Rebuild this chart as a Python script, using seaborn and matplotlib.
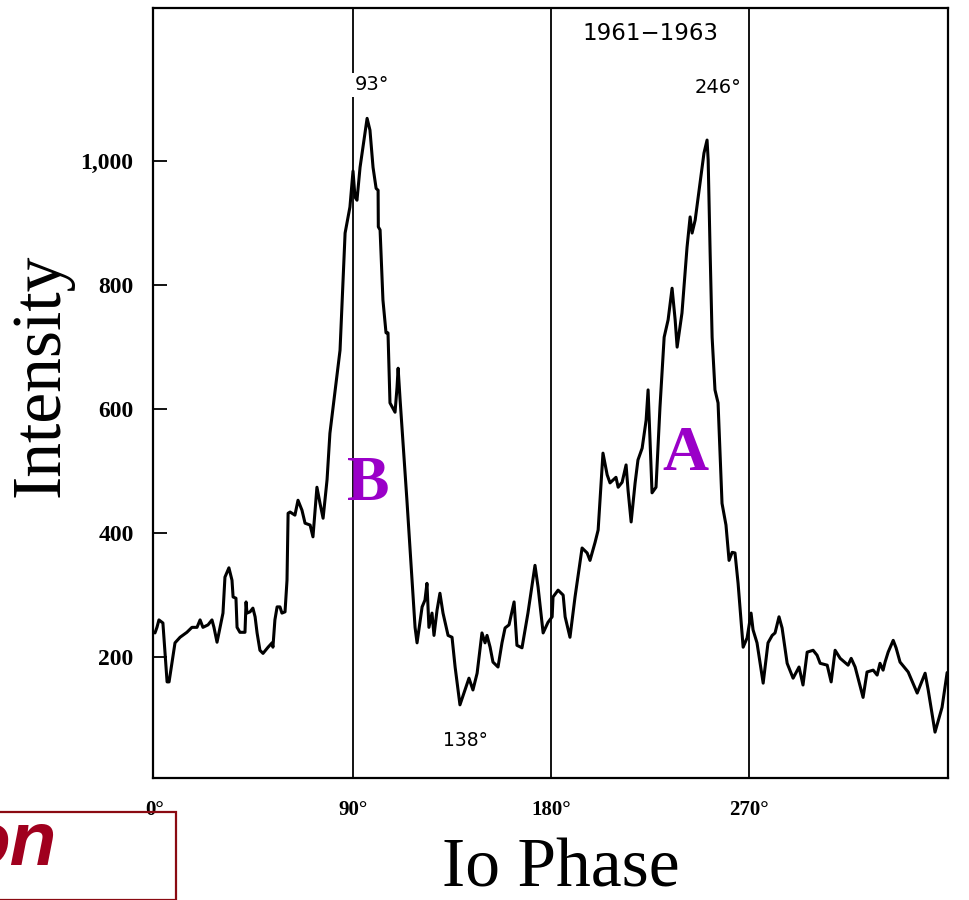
import matplotlib
matplotlib.use("Agg")
import matplotlib.pyplot as plt
import seaborn as sns
import pandas as pd
from matplotlib.patches import Rectangle

# ---- data (Io phase in degrees, intensity) ----
phase = [0.0, 0.9, 1.8, 3.6, 5.5, 6.4, 9.1, 11.4, 14.5, 16.8, 19.1, 20.5, 21.8, 24.1,
         25.9, 26.8, 28.2, 29.5, 30.9, 31.8, 33.6, 35.0, 35.5, 36.8, 37.3, 38.6, 40.9,
         41.4, 41.8, 43.2, 44.5, 45.5, 46.4, 47.7, 49.1, 51.4, 53.2, 53.6, 54.5, 55.5,
         56.8, 57.7, 59.1, 60.0, 60.5, 61.4, 63.6, 65.0, 66.8, 68.2, 70.5, 71.8, 73.6,
         75.0, 76.4, 78.2, 79.5, 84.1, 86.4, 88.6, 90.0, 90.9, 91.8, 93.2, 96.4, 97.7,
         99.1, 100.5, 101.4, 101.5, 102.3, 103.6, 105.0, 105.9, 106.8, 109.1, 110.0,
         110.5, 111.4, 114.5, 118.2, 119.1, 121.4, 122.7, 123.6, 124.5, 125.9, 126.8,
         128.2, 129.5, 130.9, 133.2, 135.0, 136.4, 138.6, 140.9, 142.7, 144.5, 146.4,
         148.6, 150.0, 150.9, 152.3, 153.6, 155.9, 157.7, 159.1, 160.9, 163.2, 164.5,
         166.8, 169.5, 172.7, 174.1, 176.4, 178.6, 180.5, 180.9, 183.2, 185.5, 186.4,
         188.6, 190.9, 194.1, 196.4, 197.7, 200.0, 201.4, 203.6, 205.5, 206.8, 209.5,
         210.5, 212.3, 214.1, 215.0, 216.4, 218.2, 219.5, 221.4, 223.2, 224.1, 225.9,
         227.7, 229.5, 231.4, 233.2, 235.0, 236.4, 237.3, 239.5, 241.8, 243.2, 244.1,
         245.5, 247.7, 249.5, 250.9, 251.4, 252.3, 253.2, 254.5, 255.9, 256.8, 257.7,
         259.5, 260.9, 262.3, 263.6, 265.0, 267.3, 269.1, 270.9, 271.8, 273.6, 275.0,
         276.4, 278.6, 280.5, 281.8, 283.6, 285.0, 287.3, 290.0, 292.7, 294.5, 296.4,
         299.1, 300.9, 302.3, 305.5, 307.3, 309.1, 311.4, 315.0, 316.4, 318.2, 321.8,
         323.6, 326.4, 328.2, 329.5, 330.9, 331.8, 333.2, 335.5, 336.8, 338.6, 342.3,
         346.4, 350.0, 351.4, 354.5, 357.7, 360.0]
intensity = [239, 248, 260, 255, 160, 160, 223, 232, 240, 248, 248, 260, 248, 252,
             260, 248, 224, 247, 271, 329, 344, 324, 297, 295, 248, 240, 240,
             289, 271, 273, 279, 265, 239, 211, 206, 216, 223, 216, 260, 281,
             281, 271, 273, 324, 432, 434, 429, 453, 437, 416, 413, 394, 474,
             448, 424, 486, 561, 695, 884, 926, 984, 942, 937, 990, 1069, 1050,
             990, 956, 953, 894, 889, 776, 723, 723, 610, 595, 635,
             666, 615, 453, 248, 223, 281, 292, 319, 248, 271, 235,
             276, 303, 271, 235, 232, 184, 123, 147, 166, 147, 174,
             239, 223, 235, 216, 192, 184, 223, 247, 252, 289, 219,
             215, 271, 348, 313, 239, 256, 265, 297, 308, 300, 265,
             232, 297, 376, 368, 356, 385, 405, 529, 494, 481, 490,
             474, 482, 510, 469, 418, 481, 518, 537, 582, 631, 465,
             474, 603, 716, 744, 795, 744, 700, 755, 861, 910, 884,
             905, 965, 1013, 1034, 1002, 852, 716, 631, 610, 529, 448,
             413, 356, 369, 368, 319, 216, 231, 271, 244, 223, 190,
             158, 223, 235, 239, 265, 247, 190, 166, 184, 155, 208,
             211, 203, 190, 187, 160, 211, 198, 187, 198, 184, 135,
             176, 179, 171, 190, 179, 192, 208, 227, 215, 192, 176,
             142, 174, 147, 79, 119, 175]

xtick_vals = [0, 90, 180, 270]
xtick_labels = ["0°", "90°", "180°", "270°"]
ytick_vals = [200, 400, 600, 800, 1000]
ytick_labels = ["200", "400", "600", "800", "1,000"]
ref_lines = [90, 180, 270]

df = pd.DataFrame({"phase": phase, "intensity": intensity})

sns.set_theme(style="white")
plt.rcParams["font.family"] = ["Liberation Serif", "DejaVu Serif"]
plt.rcParams.update({"text.color": "black", "axes.labelcolor": "black",
                     "xtick.color": "black", "ytick.color": "black"})

fig = plt.figure(figsize=(9.69, 9.0), dpi=100)
ax = fig.add_axes([153 / 969, 1 - 778 / 900, (948 - 153) / 969, (778 - 8) / 900])

for v in ref_lines:
    ax.axvline(v, color="black", lw=1.3, zorder=1)

sns.lineplot(data=df, x="phase", y="intensity", ax=ax, color="black", lw=2.2,
             sort=False, estimator=None, zorder=3)

ax.set_xlim(-0.9, 360.4)
ax.set_ylim(5, 1247)

ax.set_xticks(xtick_vals)
ax.set_xticklabels(xtick_labels, fontsize=15, fontweight="bold")
ax.set_yticks(ytick_vals)
ax.set_yticklabels(ytick_labels, fontsize=17, fontweight="bold")
ax.tick_params(axis="x", length=0, pad=16)
ax.tick_params(axis="y", direction="in", length=10, width=1.3, pad=14, left=True)

for s in ax.spines.values():
    s.set_visible(True)
    s.set_color("black")
    s.set_linewidth(1.6)

ax.set_xlabel("Io Phase", fontsize=50, labelpad=0)
ax.set_ylabel("Intensity", fontsize=50, labelpad=10)
ax.xaxis.set_label_coords((561 - 153) / (948 - 153), -(838 - 778) / 770)
ax.yaxis.set_label_coords(-(153 - 74) / 795, (778 - 375) / 770)

small = dict(family=["DejaVu Sans"], color="black", ha="center", va="center")
ax.text(98.5, 1123, "93°", fontsize=14, zorder=5,
        bbox=dict(facecolor="white", edgecolor="none", pad=1.5), **small)
ax.text(256, 1118, "246°", fontsize=14, zorder=5, **small)
ax.text(141, 66, "138°", fontsize=13.5, zorder=5, **small)
ax.text(225, 1206, "1961−1963", fontsize=16.5, zorder=5, **small)

ax.text(96.8, 477, "B", fontsize=46, fontweight="bold", color="#9a00c8",
        ha="center", va="center", zorder=6)
ax.text(240.9, 526, "A", fontsize=46, fontweight="bold", color="#9a00c8",
        ha="center", va="center", zorder=6)

# fragment of a title box at the bottom left
fig.patches.append(Rectangle((-0.01, 0), (176 + 10) / 969, (900 - 812) / 900,
                             transform=fig.transFigure, fill=False,
                             edgecolor="#8b0a12", lw=1.6))
fig.text(57 / 969, 1 - 846 / 900, "on", fontsize=55, fontweight="bold",
         fontstyle="italic", color="#a0001e", ha="right", va="center",
         family=["Liberation Sans", "DejaVu Sans"])

fig.savefig("out.png", dpi=100)
